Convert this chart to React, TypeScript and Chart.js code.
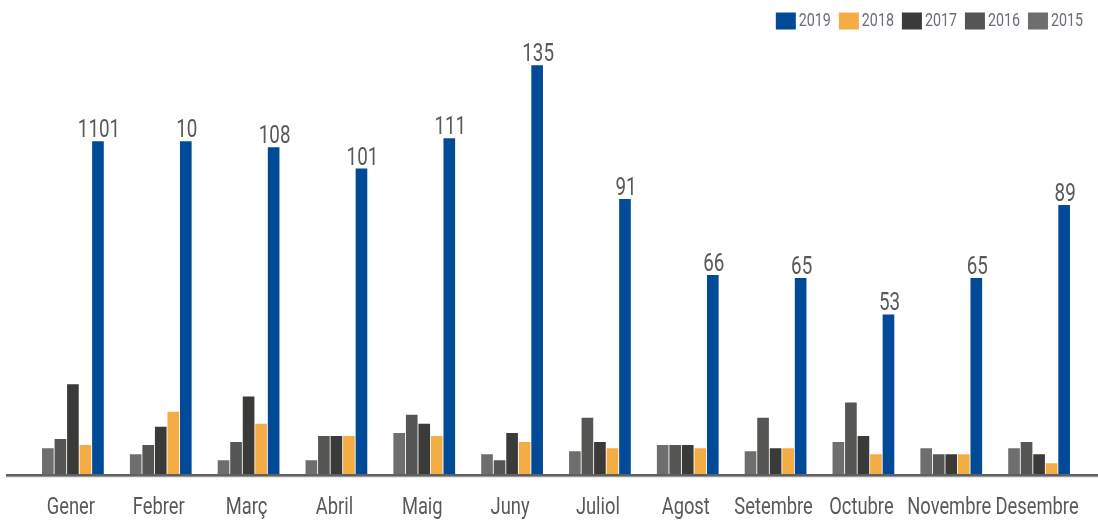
import React, { useEffect, useRef } from "react";
import { Chart, registerables } from "chart.js";

Chart.register(...registerables);

const months = ["Gener", "Febrer", "Març", "Abril", "Maig", "Juny", "Juliol", "Agost", "Setembre", "Octubre", "Novembre", "Desembre"];
const v2015 = [9, 7, 5, 5, 14, 7, 8, 10, 8, 11, 9, 9];
const v2016 = [12, 10, 11, 13, 20, 5, 19, 10, 19, 24, 7, 11];
const v2017 = [30, 16, 26, 13, 17, 14, 11, 10, 9, 13, 7, 7];
const v2018 = [10, 21, 17, 13, 13, 11, 9, 9, 9, 7, 7, 4];
const v2019 = [110, 110, 108, 101, 111, 135, 91, 66, 65, 53, 65, 89];
const labels2019 = ["1101", "10", "108", "101", "111", "135", "91", "66", "65", "53", "65", "89"];
const seriesNames = ["2015", "2016", "2017", "2018", "2019"];
const seriesColors = ["#6e6e6e", "#555553", "#3a3a38", "#f4ac45", "#004a98"];

const FONT = 'Roboto, "DejaVu Sans Condensed", sans-serif';

function drawNarrow(ctx: any, text: string, x: number, y: number, sx: number, align: string) {
  ctx.save();
  ctx.translate(x, y);
  ctx.scale(sx, 1);
  ctx.textAlign = align;
  ctx.fillText(text, 0, 0);
  ctx.restore();
}

const textPlugin = {
  id: "textPlugin",
  afterDatasetsDraw(chart: any) {
    const ctx = chart.ctx;
    const meta = chart.getDatasetMeta(4);
    const y0 = chart.scales.y.getPixelForValue(0);

    // axis line
    ctx.save();
    ctx.fillStyle = "#d0d0d0";
    ctx.fillRect(6, y0 + 0.5, chart.width - 6, 1.5);
    ctx.fillStyle = "#606060";
    ctx.fillRect(6, y0 - 1.5, chart.width - 6, 2.5);
    ctx.restore();

    // value labels on 2019 bars
    ctx.save();
    ctx.font = `26.5px ${FONT}`;
    ctx.fillStyle = "#595959";
    ctx.textBaseline = "alphabetic";
    meta.data.forEach((bar: any, i: number) => {
      drawNarrow(ctx, labels2019[i], bar.x + 1, bar.y - 4, 0.71, "center");
    });
    ctx.restore();

    // category labels
    ctx.save();
    ctx.font = `23.5px ${FONT}`;
    ctx.fillStyle = "#595959";
    ctx.textBaseline = "alphabetic";
    const xs = chart.scales.x;
    months.forEach((m, i) => {
      drawNarrow(ctx, m, xs.getPixelForValue(i) - 2, 514, 0.78, "center");
    });
    ctx.restore();

    // legend (2019 first, right aligned)
    ctx.save();
    ctx.font = `19px ${FONT}`;
    ctx.textBaseline = "alphabetic";
    const sx = 0.75;
    let right = 1083;
    for (let k = 0; k < seriesNames.length; k++) {
      const name = seriesNames[k];
      const tw = ctx.measureText(name).width * sx;
      const textX = right - tw;
      const boxX = textX - 3 - 20;
      ctx.fillStyle = "#6b6e78";
      drawNarrow(ctx, name, textX, 26, sx, "left");
      ctx.fillStyle = seriesColors[k];
      ctx.fillRect(boxX, 12.5, 20, 17);
      right = boxX - 8;
    }
    ctx.restore();
  },
};

export default function App() {
  const ref = useRef<HTMLCanvasElement>(null);
  useEffect(() => {
    document.body.style.margin = "0";
    const chart = new Chart(ref.current!, {
      type: "bar",
      data: {
        labels: months,
        datasets: seriesNames.map((name, k) => ({
          label: name,
          data: [v2015, v2016, v2017, v2018, v2019][k],
          backgroundColor: seriesColors[k],
          borderWidth: 0,
          barPercentage: 0.93,
          categoryPercentage: 0.713,
        })),
      },
      options: {
        responsive: false,
        animation: false,
        layout: { padding: { left: 29, right: 15, top: 40, bottom: 44.5 } },
        plugins: {
          legend: { display: false },
          tooltip: { enabled: false },
        },
        scales: {
          x: { display: false },
          y: { display: false, min: 0, max: 143.3 },
        },
      },
      plugins: [textPlugin],
    });
    return () => chart.destroy();
  }, []);
  return (
    <div style={{ width: 1098, height: 520 }}>
      <canvas ref={ref} width={1098} height={520} />
    </div>
  );
}
